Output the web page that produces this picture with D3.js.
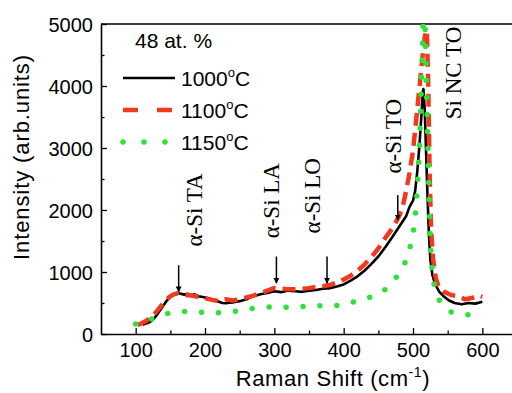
<!DOCTYPE html>
<html>
<head>
<meta charset="utf-8">
<script src="https://cdn.jsdelivr.net/npm/d3@7"></script>
<style>
  html, body { margin: 0; padding: 0; background: #fff; }
  svg { display: block; }
  .tick text { font-family: "Liberation Sans", Arial, sans-serif; font-size: 20px; fill: #000; }
</style>
</head>
<body>
<svg id="chart" width="512" height="393"></svg>
<script>
// Raman spectra, 48 at. % sample, three annealing temperatures
const seriesNames = ["1000°C", "1100°C", "1150°C"];

// Raman shift (cm^-1) / intensity (arb. units) pairs
const shift1000 = [110,115,120,125,130,135,140,145,150,155,160,165,170,175,180,185,190,195,200,205,210,215,220,225,230,235,240,245,250,255,260,265,270,280,290,300,310,320,330,340,350,360,370,380,390,400,410,420,430,440,450,460,470,480,490,495,500,503,506,509,512,514,515,517,519,521,523,525,528,532,538,545,552,560,570,580,590,600];
const int1000   = [150,170,190,230,300,380,460,540,600,640,660,650,635,650,625,640,610,600,590,575,560,540,520,500,495,505,510,520,530,545,560,590,610,640,660,690,675,700,690,680,700,710,730,740,765,800,860,930,1020,1130,1250,1400,1560,1730,1900,2050,2150,2300,2600,3000,3500,3900,3950,3600,2900,2200,1600,1200,950,800,680,600,540,500,480,500,490,520];

const shift1100 = [103,110,115,120,125,130,135,140,145,150,155,160,165,170,180,190,200,210,220,230,240,250,260,270,280,290,300,310,320,330,340,350,360,370,380,390,400,410,420,430,440,450,460,470,480,485,490,495,500,505,510,514,517,520,522,524,526,529,533,537,545,555,565,575,585,595,600];
const int1100   = [145,180,210,250,300,360,430,500,560,610,640,655,640,630,620,600,580,550,530,560,540,560,590,620,660,700,740,730,720,720,730,740,760,770,790,830,880,940,1020,1120,1240,1380,1550,1700,1900,2050,2300,2600,2950,3500,4050,4500,4800,4900,4000,2600,1700,1200,900,760,680,630,610,560,580,620,600];

const shift1150 = [100,115,130,145,160,175,190,205,220,236,250,265,285,303,320,335,354,370,385,404,420,435,450,460,470,478,486,492,497,502,506,509,511,513,515,517,519,521,523,525,528,532,537,545,553,565,580];
const int1150   = [160,200,280,330,360,365,360,335,345,360,375,410,430,440,430,430,465,450,445,495,530,580,650,720,820,950,1080,1250,1450,1750,2300,2900,3600,4400,5200,5200,4150,3250,2300,1500,950,700,560,430,360,340,310];

// Peak assignments: arrow position and label text
const peakLabels = ["α-Si TA", "α-Si LA", "α-Si LO", "α-Si TO", "Si NC TO"];
const peakShift  = [162, 303, 376, 478, 540];
const arrowFrom  = [1110, 1250, 1250, 2240, null];
const arrowTo    = [680, 820, 820, 1840, null];
const labelShift = [196, 307, 366, 483, 569];
const labelInt   = [2000, 2150, 2230, 3190, 4210];

const xTicks = [100, 200, 300, 400, 500, 600];
const xMinor = [150, 250, 350, 450, 550];
const yTicks = [0, 1000, 2000, 3000, 4000, 5000];
const yMinor = [500, 1500, 2500, 3500, 4500];

const svg = d3.select("#chart");
const x = d3.scaleLinear().domain([50, 650]).range([101, 517]);
const y = d3.scaleLinear().domain([0, 5000]).range([334, 24]);

svg.append("defs").append("clipPath").attr("id", "plotClip")
  .append("rect").attr("x", x(50)).attr("y", y(5000))
  .attr("width", x(650) - x(50)).attr("height", y(0) - y(5000));

svg.append("defs").append("marker")
  .attr("id", "arrowHead").attr("viewBox", "0 0 10 10")
  .attr("refX", 9).attr("refY", 5)
  .attr("markerWidth", 6).attr("markerHeight", 7)
  .attr("markerUnits", "userSpaceOnUse")
  .attr("orient", "auto")
  .append("path").attr("d", "M0,0 L10,5 L0,10 Z").attr("fill", "#000");

// Axes
const axisColor = "#000";
const fmt = d3.format("d");
const gx = svg.append("g").attr("transform", `translate(0,${y(0)})`)
  .call(d3.axisBottom(x).tickValues(xTicks).tickFormat(fmt).tickSize(-6).tickSizeOuter(0).tickPadding(9));
svg.append("g").attr("transform", `translate(0,${y(0)})`)
  .call(d3.axisBottom(x).tickValues(xMinor).tickSize(-3.5).tickFormat(""))
  .call(g => g.select(".domain").remove());
const gy = svg.append("g").attr("transform", `translate(${x(50)},0)`)
  .call(d3.axisLeft(y).tickValues(yTicks).tickFormat(fmt).tickSize(-6).tickSizeOuter(0).tickPadding(8));
svg.append("g").attr("transform", `translate(${x(50)},0)`)
  .call(d3.axisLeft(y).tickValues(yMinor).tickSize(-3.5).tickFormat(""))
  .call(g => g.select(".domain").remove());
svg.selectAll(".domain").attr("stroke", axisColor).attr("stroke-width", 1.6);
svg.selectAll(".tick line").attr("stroke", axisColor).attr("stroke-width", 1.3);
gx.selectAll(".tick text").attr("dy", "0.71em");
gy.selectAll(".tick text").attr("dy", "0.35em");

// top frame
svg.append("line")
  .attr("x1", x(50)).attr("x2", x(650)).attr("y1", y(5000)).attr("y2", y(5000))
  .attr("stroke", axisColor).attr("stroke-width", 1.6);

// Spectra
const line = d3.line().x(d => x(d[0])).y(d => y(d[1])).curve(d3.curveLinear);
const plot = svg.append("g").attr("clip-path", "url(#plotClip)");

const styles = [
  { color: "#000000", width: 2.6, dash: null, cap: "butt" },
  { color: "#f2391c", width: 4.5, dash: "13,7", cap: "butt" },
  { color: "#2fe23a", width: 5.5, dash: "0,17", cap: "round" }
];
const seriesData = [
  d3.zip(shift1000, int1000),
  d3.zip(shift1100, int1100),
  d3.zip(shift1150, int1150)
];
seriesData.forEach((data, i) => {
  const s = styles[i];
  plot.append("path").datum(data)
    .attr("fill", "none")
    .attr("stroke", s.color)
    .attr("stroke-width", s.width)
    .attr("stroke-linecap", s.cap)
    .attr("stroke-linejoin", "round")
    .attr("stroke-dasharray", s.dash)
    .attr("d", line);
});

// Peak arrows and labels
peakLabels.forEach((label, i) => {
  if (arrowFrom[i] !== null) {
    svg.append("line")
      .attr("x1", x(peakShift[i])).attr("x2", x(peakShift[i]))
      .attr("y1", y(arrowFrom[i])).attr("y2", y(arrowTo[i]))
      .attr("stroke", "#000").attr("stroke-width", 1.5)
      .attr("marker-end", "url(#arrowHead)");
  }
  svg.append("text")
    .attr("transform", `translate(${x(labelShift[i])},${y(labelInt[i])}) rotate(-90)`)
    .attr("text-anchor", "middle")
    .attr("font-family", "'Liberation Serif', 'Times New Roman', serif")
    .attr("font-size", 23)
    .text(label);
});

// Legend
const legend = svg.append("g").attr("font-family", "'Liberation Sans', Arial, sans-serif").attr("font-size", 21);
legend.append("text").attr("x", 135).attr("y", 48).text("48 at. %");
const legendDash = [null, "15,19", "0,21"];
seriesNames.forEach((name, i) => {
  const s = styles[i];
  const ly = 78 + i * 32;
  legend.append("line")
    .attr("x1", 123).attr("x2", 175).attr("y1", ly).attr("y2", ly)
    .attr("stroke", s.color).attr("stroke-width", s.width)
    .attr("stroke-linecap", s.cap)
    .attr("stroke-dasharray", legendDash[i]);
  const t = legend.append("text").attr("x", 181).attr("y", ly + 8);
  t.append("tspan").text(name.replace("°C", ""));
  t.append("tspan").attr("font-size", 13).attr("dy", -9).text("o");
  t.append("tspan").attr("dy", 9).text("C");
});

// Axis titles
const xt = svg.append("text")
  .attr("x", 333).attr("y", 386)
  .attr("text-anchor", "middle")
  .attr("font-family", "'Liberation Sans', Arial, sans-serif")
  .attr("font-size", 22).attr("letter-spacing", 0.6);
xt.append("tspan").text("Raman Shift (cm");
xt.append("tspan").attr("font-size", 14).attr("dy", -9).text("-1");
xt.append("tspan").attr("dy", 9).text(")");

svg.append("text")
  .attr("transform", "translate(29,157) rotate(-90)")
  .attr("text-anchor", "middle")
  .attr("font-family", "'Liberation Sans', Arial, sans-serif")
  .attr("font-size", 22).attr("letter-spacing", 0.9)
  .text("Intensity (arb.units)");
</script>
</body>
</html>
